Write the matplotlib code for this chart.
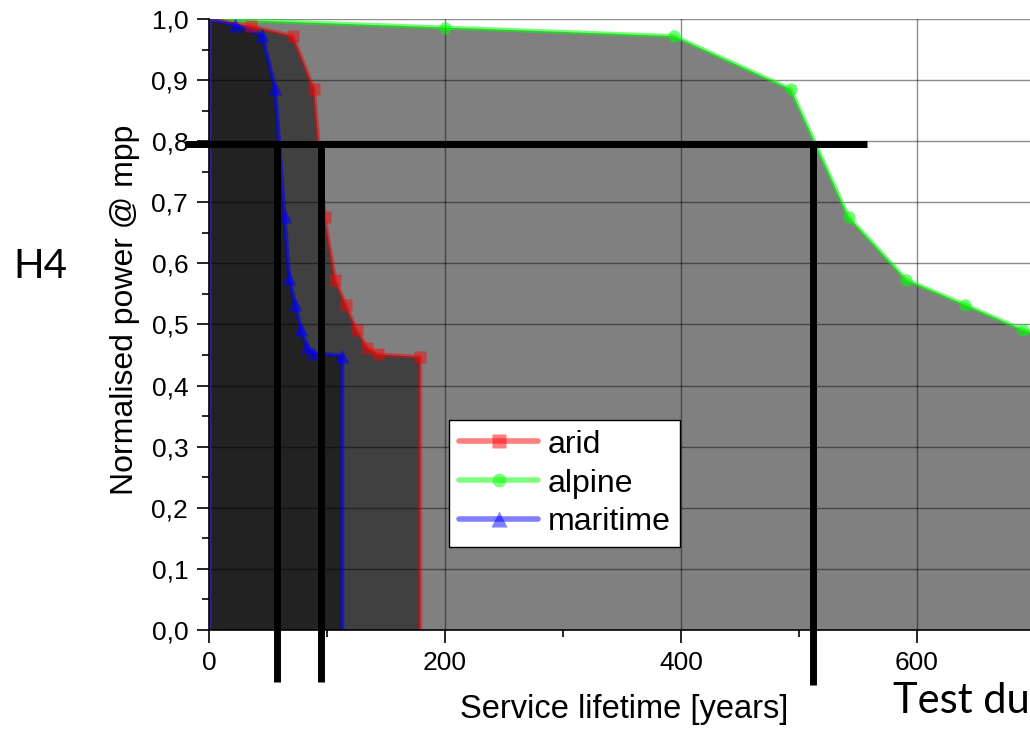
import matplotlib.pyplot as plt
from matplotlib.lines import Line2D
from matplotlib.ticker import MultipleLocator, FuncFormatter

# -----------------------------
# Data
# -----------------------------
alpine_x = [0, 200, 394, 493, 542, 591, 641, 690, 739]
alpine_y = [1.0, 0.986, 0.972, 0.885, 0.676, 0.573, 0.532, 0.491, 0.462]

arid_x = [0, 36, 71, 89, 98, 107, 116, 125, 134, 143, 179]
arid_y = [1.0, 0.988, 0.972, 0.885, 0.676, 0.573, 0.532, 0.491, 0.462, 0.451, 0.447]

maritime_x = [0, 22, 45, 56, 64, 68, 73, 78, 83, 88, 113]
maritime_y = [1.0, 0.99, 0.974, 0.887, 0.678, 0.576, 0.534, 0.493, 0.463, 0.453, 0.449]

threshold = 0.795
crossings = [58, 95, 512]

plt.rcParams['font.family'] = 'Liberation Sans'

fig = plt.figure(figsize=(10.3, 7.3), dpi=100)
x_max = 700
ax = fig.add_axes([209 / 1030, 100 / 730, 1.18 * x_max / 1030, 611 / 730])

# name, x, y, fill colour, line colour, marker
series = [
    ("alpine", alpine_x, alpine_y, "#808080", "#00ff00", "o"),
    ("arid", arid_x, arid_y, "#404040", "#ff0000", "s"),
    ("maritime", maritime_x, maritime_y, "#222222", "#0000ff", "^"),
]

for name, xs, ys, fill_c, line_c, mk in series:
    ox = [0] + xs + [xs[-1]]
    oy = [0] + ys + [0]
    ax.fill(ox, oy, color=fill_c, lw=0, zorder=1)

for name, xs, ys, fill_c, line_c, mk in series:
    ox = [0] + xs + [xs[-1]]
    oy = [0] + ys + [0]
    a = 0.45 if name == "arid" else 0.55
    ax.plot(ox, oy, color=line_c, alpha=a, lw=3, zorder=3,
            solid_joinstyle='round')
    ax.plot(xs[1:], ys[1:], ls='none', marker=mk, ms=10 if mk == "^" else 9,
            color=line_c, alpha=a, mec='none', zorder=4)

# threshold lines
ax.plot([-20, 558], [threshold, threshold], color='black', lw=5,
        clip_on=False, zorder=6, solid_capstyle='butt')
for i, cx in enumerate(crossings):
    bottom = -0.09 if i == 2 else -0.085
    ax.plot([cx, cx], [threshold, bottom], color='black', lw=5,
            clip_on=False, zorder=6, solid_capstyle='butt')

ax.set_xlim(0, x_max)
ax.set_ylim(0, 1.0)
ax.xaxis.set_major_locator(MultipleLocator(200))
ax.xaxis.set_minor_locator(MultipleLocator(100))
ax.yaxis.set_major_locator(MultipleLocator(0.1))
ax.yaxis.set_minor_locator(MultipleLocator(0.05))
ax.yaxis.set_major_formatter(FuncFormatter(lambda v, p: f"{v:.1f}".replace(".", ",")))
ax.xaxis.set_major_formatter(FuncFormatter(lambda v, p: f"{v:.0f}"))

ax.set_axisbelow(False)
ax.grid(True, which='major', color='black', alpha=0.45, lw=1)
ax.tick_params(which='major', direction='out', length=9, width=1.2,
               labelsize=19, pad=6)
ax.tick_params(which='minor', direction='out', length=5, width=1.2)

for s in ["top", "right"]:
    ax.spines[s].set_visible(False)
for s in ["left", "bottom"]:
    ax.spines[s].set_linewidth(1.2)
    ax.spines[s].set_zorder(5)

handles = [
    Line2D([], [], color=c, alpha=0.5, lw=4, marker=m, ms=11 if m == "^" else 10,
           mec='none', solid_capstyle='round')
    for c, m in [("#ff0000", "s"), ("#00ff00", "o"), ("#0000ff", "^")]
]
leg = fig.legend(handles, ["arid", "alpine", "maritime"], loc='upper left',
                 bbox_to_anchor=(449 / 1030, 1 - 420 / 730), fontsize=23,
                 frameon=True, fancybox=False, framealpha=1, edgecolor='black',
                 handlelength=2.5, handletextpad=0.3, labelspacing=0.28,
                 borderpad=0.3, borderaxespad=0)
leg.get_frame().set_linewidth(1)
leg.set_zorder(10)

fig.text(125 / 1030, 1 - 310 / 730, "Normalised power @ mpp", rotation=90,
         ha='center', va='center', fontsize=23)
fig.text(624 / 1030, 1 - 718 / 730, "Service lifetime [years]",
         ha='center', va='baseline', fontsize=23.5)
fig.text(13 / 1030, 1 - 278 / 730, "H4", ha='left', va='baseline',
         fontsize=29, family='Lato')
fig.text(893 / 1030, 1 - 713 / 730, "Test du", ha='left', va='baseline',
         fontsize=30, family='Lato')

fig.savefig("out.png", dpi=100)
